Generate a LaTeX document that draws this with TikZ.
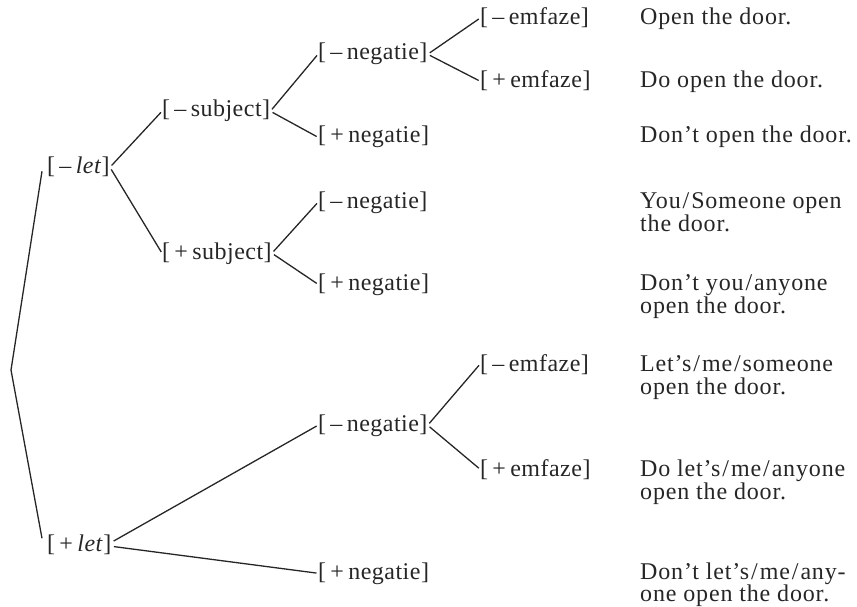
\documentclass[tikz,border=0pt]{standalone}
\usepackage{fontspec}
\setmainfont{Liberation Serif}
\newfontfamily\sentfont[LetterSpace=3.5]{Liberation Serif}
\newfontfamily\labfont[LetterSpace=2]{Liberation Serif}
\newcommand{\gapx}{\hspace{0.18em}}
\newcommand{\slx}{\kern0.08em/\kern0.08em}
\begin{document}
\begin{tikzpicture}[x=1pt,y=-1pt,
  ink/.style={black!85},
  lab/.style={ink,anchor=base west,inner sep=0pt,font=\labfont\fontsize{24}{27}\selectfont},
  sent/.style={ink,anchor=base west,inner sep=0pt,font=\sentfont\fontsize{24}{27}\selectfont},
  br/.style={ink,line width=1.3pt,shorten <=2.5pt,shorten >=1.5pt}]
\useasboundingbox (0,0) rectangle (857,607);
% labels
\node[lab] (let1) at (47,174) {[\gapx–\gapx\textit{let}]};
\node[lab] (let2) at (47,551) {[\gapx+\gapx\textit{let}]};
\node[lab] (subj1) at (162,117) {[\gapx–\gapx subject]};
\node[lab] (subj2) at (162,259) {[\gapx+\gapx subject]};
\node[lab] (neg1) at (318,60) {[\gapx–\gapx negatie]};
\node[lab] (neg2) at (318,143) {[\gapx+\gapx negatie]};
\node[lab] (neg3) at (318,208) {[\gapx–\gapx negatie]};
\node[lab] (neg4) at (318,290) {[\gapx+\gapx negatie]};
\node[lab] (neg5) at (318,431) {[\gapx–\gapx negatie]};
\node[lab] (neg6) at (318,579) {[\gapx+\gapx negatie]};
\node[lab] (emf1) at (480,25) {[\gapx–\gapx emfaze]};
\node[lab] (emf2) at (480,88) {[\gapx+\gapx emfaze]};
\node[lab] (emf3) at (480,371) {[\gapx–\gapx emfaze]};
\node[lab] (emf4) at (480,476) {[\gapx+\gapx emfaze]};
% sentences
\node[sent] (s1) at (640,25) {Open the door.};
\node[sent] (s2) at (640,88) {Do open the door.};
\node[sent] (s3) at (640,143) {Don’t open the door.};
\node[sent] (s4a) at (640,208) {You\slx Someone open};
\node[sent] (s4b) at (640,231) {the door.};
\node[sent] (s5a) at (640,290) {Don’t you\slx anyone};
\node[sent] (s5b) at (640,313) {open the door.};
\node[sent] (s6a) at (640,371) {Let’s\slx me\slx someone};
\node[sent] (s6b) at (640,394) {open the door.};
\node[sent] (s7a) at (640,476) {Do let’s\slx me\slx anyone};
\node[sent] (s7b) at (640,499) {open the door.};
\node[sent] (s8a) at (640,579) {Don’t let’s\slx me\slx any-};
\node[sent] (s8b) at (640,601) {one open the door.};
% root
\coordinate (root) at (11,370);
\draw[ink,line width=1.3pt] ([xshift=-5pt,yshift=-4pt]let1.west) -- (root) -- ([xshift=-5pt,yshift=6pt]let2.west);
% branches
\draw[br] (let1.east) -- (subj1.west);
\draw[br] (let1.east) -- (subj2.west);
\draw[br] (subj1.east) -- (neg1.west);
\draw[br] (subj1.east) -- (neg2.west);
\draw[br] (subj2.east) -- (neg3.west);
\draw[br] (subj2.east) -- (neg4.west);
\draw[br] (neg1.east) -- (emf1.west);
\draw[br] (neg1.east) -- (emf2.west);
\draw[br] ([yshift=2pt]let2.east) -- (neg5.west);
\draw[br] ([yshift=-2pt]let2.east) -- (neg6.west);
\draw[br] (neg5.east) -- (emf3.west);
\draw[br] (neg5.east) -- (emf4.west);
\end{tikzpicture}
\end{document}
